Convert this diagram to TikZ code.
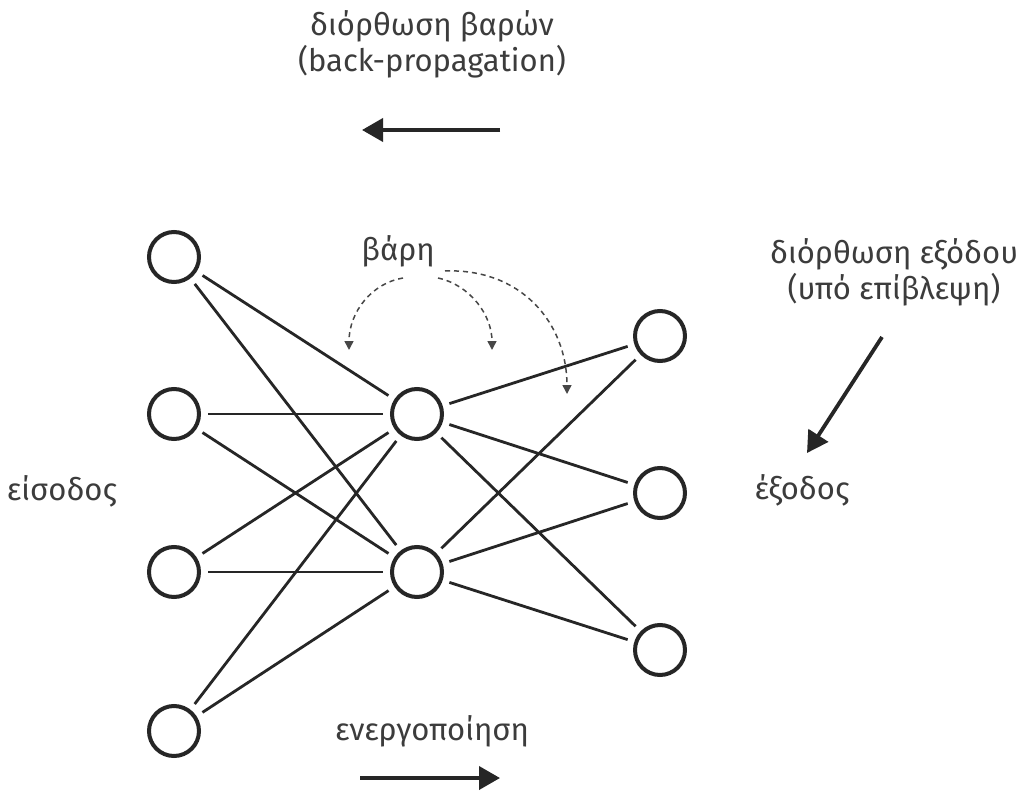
\documentclass[tikz,border=0pt]{standalone}
\usepackage{fontspec}
\setmainfont{Fira Sans}
\usetikzlibrary{arrows.meta}
\definecolor{ink}{HTML}{262626}
\definecolor{txt}{HTML}{3C3C3C}
\begin{document}
\begin{tikzpicture}[x=1pt,y=-1pt,
  neuron/.style={circle,draw=ink,line width=4pt,inner sep=0pt,minimum size=50pt},
  link/.style={draw=ink,line width=2.8pt,shorten <=7pt,shorten >=7pt},
  lbl/.style={text=txt,font=\fontsize{31}{36}\selectfont,align=center,inner sep=0pt},
  bigarrow/.style={draw=ink,line width=3.8pt,-{Triangle[length=21pt,width=23pt]}},
  weightarrow/.style={draw=ink!85,line width=1.5pt,dash pattern=on 5pt off 4pt,-{Triangle[length=9pt,width=9pt]}}]
\useasboundingbox[fill=white] (0,0) rectangle (1016,791);
% neurons
\node[neuron] (i1) at (174,257) {};
\node[neuron] (i2) at (174,414) {};
\node[neuron] (i3) at (174,572) {};
\node[neuron] (i4) at (174,731) {};
\node[neuron] (h1) at (417,414) {};
\node[neuron] (h2) at (417,572) {};
\node[neuron] (o1) at (660,336) {};
\node[neuron] (o2) at (660,493) {};
\node[neuron] (o3) at (660,650) {};
% links
\foreach \i in {i1,i2,i3,i4}{
  \foreach \h in {h1,h2}{
    \path[link] (\i) -- (\h);
  }
}
\foreach \h in {h1,h2}{
  \foreach \o in {o1,o2,o3}{
    \path[link] (\h) -- (\o);
  }
}
% labels
\node[lbl] (bp) at (432,44) {διόρθωση βαρών\\(back-propagation)};
\coordinate (bpS) at (500,130);
\coordinate (bpE) at (362,130);
\draw[bigarrow] (bpS) -- (bpE);

\node[lbl] (w) at (398,251) {βάρη};
\coordinate (w1s) at (403,278);
\coordinate (w1e) at (349,350);
\coordinate (w2s) at (438,278);
\coordinate (w2e) at (492,350);
\coordinate (w3s) at (445,271);
\coordinate (w3e) at (567,394);
\draw[weightarrow] (w1s) .. controls (372,283) and (349,312) .. (w1e);
\draw[weightarrow] (w2s) .. controls (470,285) and (492,315) .. (w2e);
\draw[weightarrow] (w3s) .. controls (520,268) and (567,322) .. (w3e);

\node[lbl] (sup) at (894,272) {διόρθωση εξόδου\\(υπό επίβλεψη)};
\coordinate (supS) at (882,337);
\coordinate (supE) at (807,453);
\draw[bigarrow] (supS) -- (supE);

\node[lbl] (in) at (62,491) {είσοδος};
\node[lbl] (out) at (802,490) {έξοδος};
\node[lbl] (act) at (432,731) {ενεργοποίηση};
\coordinate (actS) at (360,778);
\coordinate (actE) at (500,778);
\draw[bigarrow] (actS) -- (actE);
\end{tikzpicture}
\end{document}
